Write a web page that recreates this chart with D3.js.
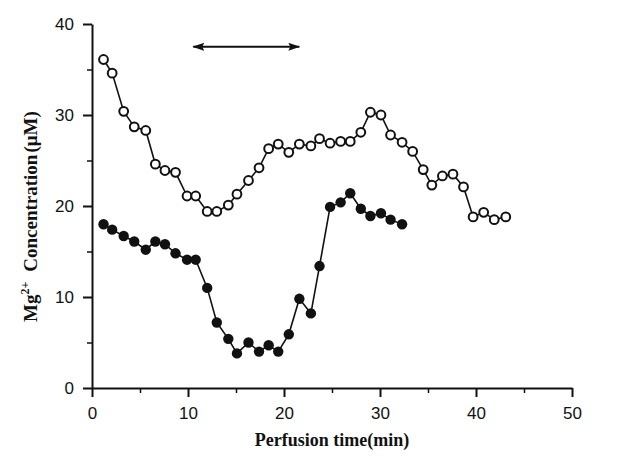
<!DOCTYPE html>
<html>
<head>
<meta charset="utf-8">
<script src="https://cdn.jsdelivr.net/npm/d3@7"></script>
<style>
  body { margin: 0; background: #fff; }
  .tick text { font-family: "Liberation Sans", Arial, sans-serif; font-size: 17px; fill: #111; }
  .title { font-family: "Liberation Serif", "Times New Roman", serif; font-weight: bold; font-size: 18px; fill: #111; }
</style>
</head>
<body>
<script>
//data
var times = [1.2, 2.1, 3.3, 4.4, 5.6, 6.6, 7.6, 8.7, 9.9, 10.8,
  12.0, 13.0, 14.2, 15.1, 16.3, 17.4, 18.4, 19.4, 20.5, 21.6,
  22.8, 23.7, 24.8, 25.9, 26.9, 28.0, 29.0, 30.1, 31.1, 32.3,
  33.4, 34.5, 35.4, 36.5, 37.6, 38.7, 39.7, 40.8, 41.9, 43.1];
var openValues = [36.1, 34.6, 30.4, 28.7, 28.3, 24.6, 23.9, 23.7, 21.1, 21.1,
  19.4, 19.4, 20.1, 21.3, 22.8, 24.2, 26.3, 26.8, 25.9, 26.8,
  26.6, 27.4, 26.9, 27.1, 27.1, 28.1, 30.3, 30.0, 27.8, 27.0,
  26.0, 24.0, 22.3, 23.3, 23.5, 22.1, 18.8, 19.3, 18.5, 18.8];
var filledValues = [18.0, 17.4, 16.7, 16.1, 15.2, 16.1, 15.8, 14.8, 14.1, 14.1,
  11.0, 7.2, 5.4, 3.8, 5.0, 4.0, 4.7, 4.0, 5.9, 9.8,
  8.2, 13.4, 19.9, 20.4, 21.4, 19.7, 18.9, 19.2, 18.5, 18.0];
var xTicks = [0, 10, 20, 30, 40, 50];
var yTicks = [0, 10, 20, 30, 40];
var arrowSpan = [10.55, 21.6];
var arrowLevel = 37.5;

//settings
var margin = {left: 92, top: 24, right: 48, bottom: 72};
var width = 620, height = 460;
var ink = '#111';

var x = d3.scaleLinear().domain([0, 50]).range([margin.left, width - margin.right]);
var y = d3.scaleLinear().domain([0, 40]).range([height - margin.bottom, margin.top]);

var svg = d3.select('body').append('svg')
  .attr('width', width)
  .attr('height', height);

svg.append('defs').append('marker')
  .attr('id', 'head')
  .attr('viewBox', '0 0 12 8')
  .attr('refX', 11).attr('refY', 4)
  .attr('markerWidth', 12).attr('markerHeight', 8)
  .attr('markerUnits', 'userSpaceOnUse')
  .attr('orient', 'auto-start-reverse')
  .append('path')
  .attr('d', 'M0,0 L12,4 L0,8 L2,4 Z')
  .attr('fill', ink);

//axes, major ticks
var xAxis = svg.append('g')
  .attr('transform', 'translate(0,' + y(0) + ')')
  .call(d3.axisBottom(x).tickValues(xTicks).tickSize(9).tickPadding(10).tickSizeOuter(0));
var yAxis = svg.append('g')
  .attr('transform', 'translate(' + x(0) + ',0)')
  .call(d3.axisLeft(y).tickValues(yTicks).tickSize(9).tickPadding(9).tickSizeOuter(0));
[xAxis, yAxis].forEach(function(a) {
  a.select('.domain').attr('stroke', ink).attr('stroke-width', 2);
  a.selectAll('.tick line').attr('stroke', ink).attr('stroke-width', 2);
});

//minor ticks at the halves
svg.append('g')
  .attr('transform', 'translate(0,' + y(0) + ')')
  .call(d3.axisBottom(x).tickValues([5, 15, 25, 35, 45]).tickSize(5).tickFormat('').tickSizeOuter(0))
  .call(function(g) { g.select('.domain').remove(); g.selectAll('line').attr('stroke', ink).attr('stroke-width', 1.5); });
svg.append('g')
  .attr('transform', 'translate(' + x(0) + ',0)')
  .call(d3.axisLeft(y).tickValues([5, 15, 25, 35]).tickSize(5).tickFormat('').tickSizeOuter(0))
  .call(function(g) { g.select('.domain').remove(); g.selectAll('line').attr('stroke', ink).attr('stroke-width', 1.5); });

//series
var openData = openValues.map(function(v, i) { return {t: times[i], v: v}; });
var filledData = filledValues.map(function(v, i) { return {t: times[i], v: v}; });
var line = d3.line().x(function(d) { return x(d.t); }).y(function(d) { return y(d.v); });

[openData, filledData].forEach(function(data) {
  svg.append('path')
    .datum(data)
    .attr('d', line)
    .attr('fill', 'none')
    .attr('stroke', ink)
    .attr('stroke-width', 1.6);
});

svg.append('g').selectAll('circle')
  .data(openData)
  .enter()
  .append('circle')
  .attr('cx', function(d) { return x(d.t); })
  .attr('cy', function(d) { return y(d.v); })
  .attr('r', 4.4)
  .attr('fill', '#fff')
  .attr('stroke', ink)
  .attr('stroke-width', 2);

svg.append('g').selectAll('circle')
  .data(filledData)
  .enter()
  .append('circle')
  .attr('cx', function(d) { return x(d.t); })
  .attr('cy', function(d) { return y(d.v); })
  .attr('r', 5.2)
  .attr('fill', ink);

//double arrow for the treatment period
svg.append('line')
  .attr('x1', x(arrowSpan[0])).attr('y1', y(arrowLevel))
  .attr('x2', x(arrowSpan[1])).attr('y2', y(arrowLevel))
  .attr('stroke', ink)
  .attr('stroke-width', 2)
  .attr('marker-start', 'url(#head)')
  .attr('marker-end', 'url(#head)');

//titles
svg.append('text')
  .attr('class', 'title')
  .attr('x', (x(0) + x(50)) / 2)
  .attr('y', 446)
  .attr('text-anchor', 'middle')
  .text('Perfusion time(min)');

//y title starts at the bottom, reads upward
var yTitle = svg.append('text')
  .attr('class', 'title')
  .style('font-size', '19px')
  .attr('transform', 'translate(37,322) rotate(-90)')
  .attr('text-anchor', 'start');
yTitle.append('tspan').text('Mg');
yTitle.append('tspan').attr('dy', -8).style('font-size', '12px').text('2+');
yTitle.append('tspan').attr('dy', 8).attr('dx', 10).text('Concentration');
yTitle.append('tspan').attr('dx', 2).text('(\u03bcM)');
</script>
</body>
</html>
